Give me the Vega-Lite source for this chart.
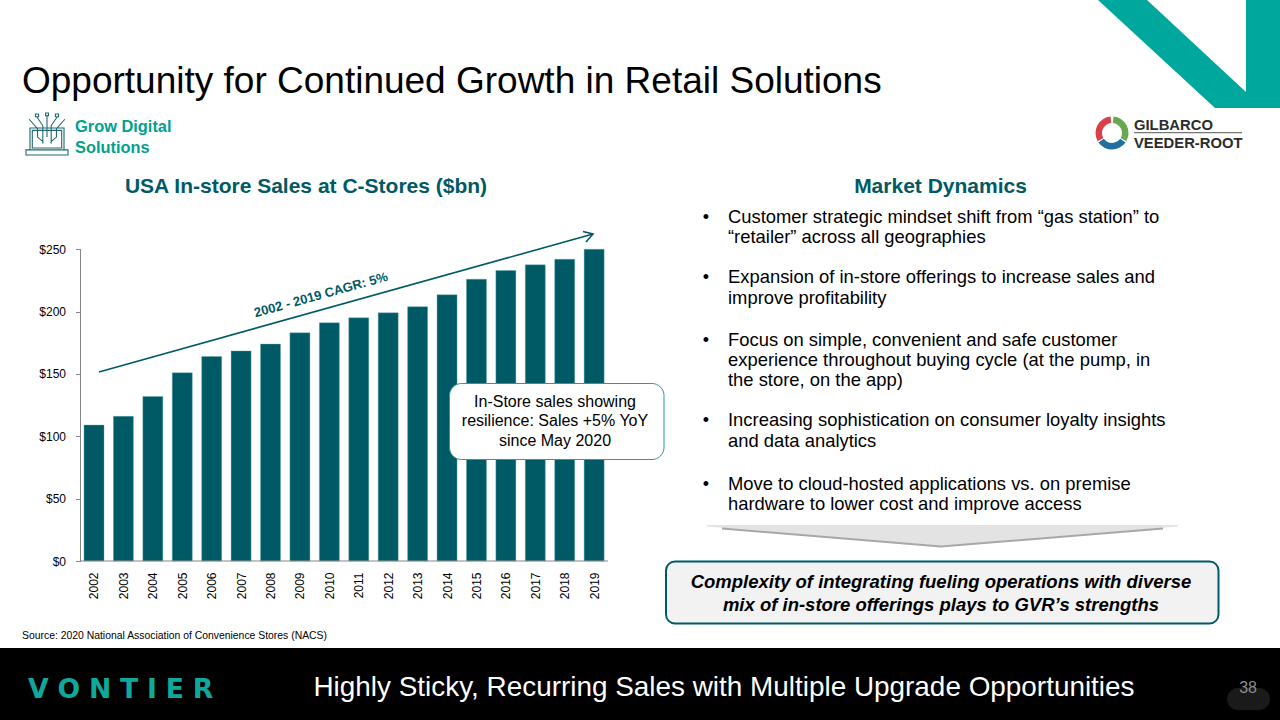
{
"$schema":"https://vega.github.io/schema/vega-lite/v6.json",
"width":1280,"height":720,"padding":0,"autosize":"none",
"background":"#ffffff",
"config":{"view":{"stroke":null},"font":"Liberation Sans","text":{"font":"Liberation Sans"}},
"datasets":{
"sales":[{"year":2002,"sales":109},{"year":2003,"sales":116},{"year":2004,"sales":132},{"year":2005,"sales":151},{"year":2006,"sales":164},{"year":2007,"sales":168.5},{"year":2008,"sales":174},{"year":2009,"sales":183},{"year":2010,"sales":191},{"year":2011,"sales":195},{"year":2012,"sales":199},{"year":2013,"sales":204},{"year":2014,"sales":213.5},{"year":2015,"sales":226},{"year":2016,"sales":233},{"year":2017,"sales":237.5},{"year":2018,"sales":242},{"year":2019,"sales":250}]
},
"resolve":{"scale":{"x":"independent","y":"independent"},"axis":{"x":"independent","y":"independent"}},
"layer":[
{"data":{"name":"sales"},
 "mark":{"type":"bar","size":20,"fill":"#005A65","stroke":"#5FA8AC","strokeWidth":0.4},
 "encoding":{
  "x":{"field":"year","type":"quantitative","scale":{"domain":[1998.805,2042.313],"nice":false,"zero":false,"padding":0},
   "axis":{"title":null,"offset":-159,"values":[2002,2003,2004,2005,2006,2007,2008,2009,2010,2011,2012,2013,2014,2015,2016,2017,2018,2019],"format":"d","labelAngle":-90,"labelFontSize":12,"labelColor":"#000000","labelPadding":11,"labelFont":"Liberation Sans","ticks":false,"domain":false,"grid":false,"labelOverlap":false,"labelBound":false,"labelFlush":false}},
  "y":{"field":"sales","type":"quantitative","title":null,"scale":{"domain":[-127.5,449.9],"nice":false,"zero":false,"padding":0},
   "axis":{"offset":-80.5,"values":[0,50,100,150,200,250],"format":"$d","labelFontSize":12,"labelColor":"#000000","labelPadding":10,"labelFont":"Liberation Sans","tickSize":5,"tickColor":"#868686","domain":false,"grid":false,"labelOverlap":false,"labelBound":false,"labelFlush":false}}
 }},
{"encoding":{
  "x":{"field":"col","type":"quantitative","scale":{"domain":[0,1280],"nice":false,"zero":false},"axis":null},
  "y":{"field":"row","type":"quantitative","scale":{"domain":[720,0],"nice":false,"zero":false},"axis":null}},
 "layer":[
 {"data":{"values":[{"col":0,"col2":1280,"row":648,"row2":720}]},"mark":{"type":"rect","fill":"#000000"},"encoding":{"x2":{"field":"col2"},"y2":{"field":"row2"}}},
 {"data":{"values":[{"col":1098,"row":0,"o":1},{"col":1215,"row":108,"o":2},{"col":1280,"row":108,"o":3},{"col":1280,"row":0,"o":4},{"col":1246,"row":0,"o":5},{"col":1246,"row":92,"o":6},{"col":1147,"row":0,"o":7},{"col":1098,"row":0,"o":8}]},"mark":{"type":"line","fill":"#00A79D","stroke":"#00A79D","strokeWidth":0,"interpolate":"linear"},"encoding":{"order":{"field":"o"}}},
 {"data":{"values":[{"col":80.5,"row":249.5,"col2":80.5,"row2":561},{"col":80.5,"row":561,"col2":608,"row2":561}]},"mark":{"type":"rule","stroke":"#868686","strokeWidth":1},"encoding":{"x2":{"field":"col2"},"y2":{"field":"row2"}}},
 {"data":{"values":[{"g":"a","col":99,"row":372,"o":1},{"g":"a","col":593,"row":234,"o":2},{"g":"b","col":583,"row":231.5,"o":1},{"g":"b","col":593,"row":234,"o":2},{"g":"b","col":586,"row":242,"o":3}]},"mark":{"type":"line","stroke":"#005A65","strokeWidth":1.6},"encoding":{"detail":{"field":"g"},"order":{"field":"o"}}},
 {"data":{"values":[{"col":321,"row":295,"t":"2002 - 2019 CAGR: 5%"}]},"mark":{"type":"text","fontSize":13,"fontWeight":"bold","fill":"#005A65","angle":-15.5,"align":"center","baseline":"middle"},"encoding":{"text":{"field":"t"}}},
 {"data":{"values":[{"col":449.5,"col2":664,"row":383.5,"row2":459.5}]},"mark":{"type":"rect","fill":"#ffffff","stroke":"#2A9A9A","strokeWidth":1,"cornerRadius":12},"encoding":{"x2":{"field":"col2"},"y2":{"field":"row2"}}},
 {"data":{"values":[{"col":555,"row":407,"t":"In-Store sales showing"},{"col":555,"row":426,"t":"resilience: Sales +5% YoY"},{"col":555,"row":446,"t":"since May 2020"}]},"mark":{"type":"text","fontSize":16,"fill":"#000000","align":"center","baseline":"alphabetic"},"encoding":{"text":{"field":"t"}}},
 {"data":{"values":[{"col":22,"row":93,"t":"Opportunity for Continued Growth in Retail Solutions"}]},"mark":{"type":"text","fontSize":37,"fill":"#000000","align":"left","baseline":"alphabetic"},"encoding":{"text":{"field":"t"}}},
 {"data":{"values":[{"col":75,"row":132,"t":"Grow Digital"},{"col":75,"row":153,"t":"Solutions"}]},"mark":{"type":"text","fontSize":16.4,"fontWeight":"bold","fill":"#00A190","align":"left","baseline":"alphabetic"},"encoding":{"text":{"field":"t"}}},
 {"data":{"values":[{"col":306,"row":193,"t":"USA In-store Sales at C-Stores ($bn)"},{"col":940.5,"row":193,"t":"Market Dynamics"}]},"mark":{"type":"text","fontSize":21,"fontWeight":"bold","fill":"#005A65","align":"center","baseline":"alphabetic"},"encoding":{"text":{"field":"t"}}},
 {"data":{"values":[{"col":706,"row":223,"t":"•"},{"col":706,"row":283,"t":"•"},{"col":706,"row":346,"t":"•"},{"col":706,"row":426,"t":"•"},{"col":706,"row":490,"t":"•"}]},"mark":{"type":"text","fontSize":18,"fill":"#000000","align":"center","baseline":"alphabetic"},"encoding":{"text":{"field":"t"}}},
 {"data":{"values":[{"col":728,"row":223,"t":"Customer strategic mindset shift from “gas station” to"},{"col":728,"row":243,"t":"“retailer” across all geographies"},{"col":728,"row":283,"t":"Expansion of in-store offerings to increase sales and"},{"col":728,"row":304,"t":"improve profitability"},{"col":728,"row":346,"t":"Focus on simple, convenient and safe customer"},{"col":728,"row":366,"t":"experience throughout buying cycle (at the pump, in"},{"col":728,"row":386,"t":"the store, on the app)"},{"col":728,"row":426,"t":"Increasing sophistication on consumer loyalty insights"},{"col":728,"row":447,"t":"and data analytics"},{"col":728,"row":490,"t":"Move to cloud-hosted applications vs. on premise"},{"col":728,"row":510,"t":"hardware to lower cost and improve access"}]},"mark":{"type":"text","fontSize":18.4,"fill":"#000000","align":"left","baseline":"alphabetic"},"encoding":{"text":{"field":"t"}}},
 {"data":{"values":[{"col":707,"row":525,"o":1},{"col":1178,"row":525,"o":2},{"col":1178,"row":526.5,"o":3},{"col":941,"row":546,"o":4},{"col":707,"row":526.5,"o":5},{"col":707,"row":525,"o":6}]},"mark":{"type":"line","fill":"#E3E3E3","stroke":"#E3E3E3","strokeWidth":0},"encoding":{"order":{"field":"o"}}},
 {"data":{"values":[{"col":722,"row":528.5,"o":1},{"col":941,"row":546.5,"o":2},{"col":1163,"row":528.5,"o":3}]},"mark":{"type":"line","stroke":"#A4A8A8","strokeWidth":2},"encoding":{"order":{"field":"o"}}},
 {"data":{"values":[{"col":666,"col2":1218.5,"row":561.5,"row2":623.5}]},"mark":{"type":"rect","fill":"#F2F2F2","stroke":"#005A65","strokeWidth":2,"cornerRadius":9},"encoding":{"x2":{"field":"col2"},"y2":{"field":"row2"}}},
 {"data":{"values":[{"col":941,"row":588,"t":"Complexity of integrating fueling operations with diverse"},{"col":941,"row":611,"t":"mix of in-store offerings plays to GVR’s strengths"}]},"mark":{"type":"text","fontSize":18.5,"fontWeight":"bold","fontStyle":"italic","fill":"#000000","align":"center","baseline":"alphabetic"},"encoding":{"text":{"field":"t"}}},
 {"data":{"values":[{"col":22,"row":639,"t":"Source: 2020 National Association of Convenience Stores (NACS)"}]},"mark":{"type":"text","fontSize":10.4,"fill":"#000000","align":"left","baseline":"alphabetic"},"encoding":{"text":{"field":"t"}}},
 {"data":{"values":[{"col":724,"row":696,"t":"Highly Sticky, Recurring Sales with Multiple Upgrade Opportunities"}]},"mark":{"type":"text","fontSize":27.9,"fill":"#ffffff","align":"center","baseline":"alphabetic"},"encoding":{"text":{"field":"t"}}},
 {"data":{"values":[{"col":1227,"col2":1270,"row":688,"row2":710}]},"mark":{"type":"rect","fill":"#1A1A1A","cornerRadius":11},"encoding":{"x2":{"field":"col2"},"y2":{"field":"row2"}}},
 {"data":{"values":[{"col":1257,"row":693,"t":"38"}]},"mark":{"type":"text","fontSize":16,"fill":"#8C8C8C","align":"right","baseline":"alphabetic"},"encoding":{"text":{"field":"t"}}},
 {"data":{"values":[{"col":28,"row":698,"t":"V\u2004O\u2004N\u2004T\u2004I\u2004E\u2004R"}]},"mark":{"type":"text","font":"DejaVu Sans","fontSize":26.7,"fontWeight":"bold","fill":"#0FA89C","align":"left","baseline":"alphabetic"},"encoding":{"text":{"field":"t"}}},
 {"data":{"values":[{"col":47,"row":135}]},"mark":{"type":"point","shape":"M-.81 -.33H.81V.71H-.81ZM-1 .71H1V.95H-1ZM-.7 -.22H.7V.62H-.7ZM-.5 -.88L-.2 -.45V.4M0 -.95V.1M.5 -.88L.2 -.45V.4M-.85 -.75L-.45 -.3V.1L-.15 .35M.85 -.75L.45 -.3V.1L.15 .35M-.55 -1H-.4V-.87H-.55ZM-.07 -1.05H.07V-.92H-.07ZM.4 -1H.55V-.87H.4Z","size":1764,"filled":false,"stroke":"#1F6A70","strokeWidth":1.1,"opacity":1}},
 {"data":{"values":[{"col":1112,"row":133,"a":0.09,"b":2.09,"c":"green"},{"col":1112,"row":133,"a":2.18,"b":4.1,"c":"blue"},{"col":1112,"row":133,"a":4.19,"b":6.2,"c":"red"}]},"mark":{"type":"arc","radius":16.5,"radius2":10},"encoding":{"theta":{"field":"a","type":"quantitative","scale":null},"theta2":{"field":"b"},"fill":{"field":"c","type":"nominal","scale":{"domain":["green","blue","red"],"range":["#6AA84F","#1F6F9F","#D9404A"]},"legend":null}}},
 {"data":{"values":[{"col":1134,"row":130,"t":"GILBARCO"},{"col":1134,"row":147.5,"t":"VEEDER-ROOT"}]},"mark":{"type":"text","fontSize":14.8,"fontWeight":"bold","fill":"#2B2B2B","align":"left","baseline":"alphabetic"},"encoding":{"text":{"field":"t"}}},
 {"data":{"values":[{"col":1134,"col2":1242,"row":132.7,"row2":132.7}]},"mark":{"type":"rule","stroke":"#555555","strokeWidth":1},"encoding":{"x2":{"field":"col2"},"y2":{"field":"row2"}}}
 ]}
]}
